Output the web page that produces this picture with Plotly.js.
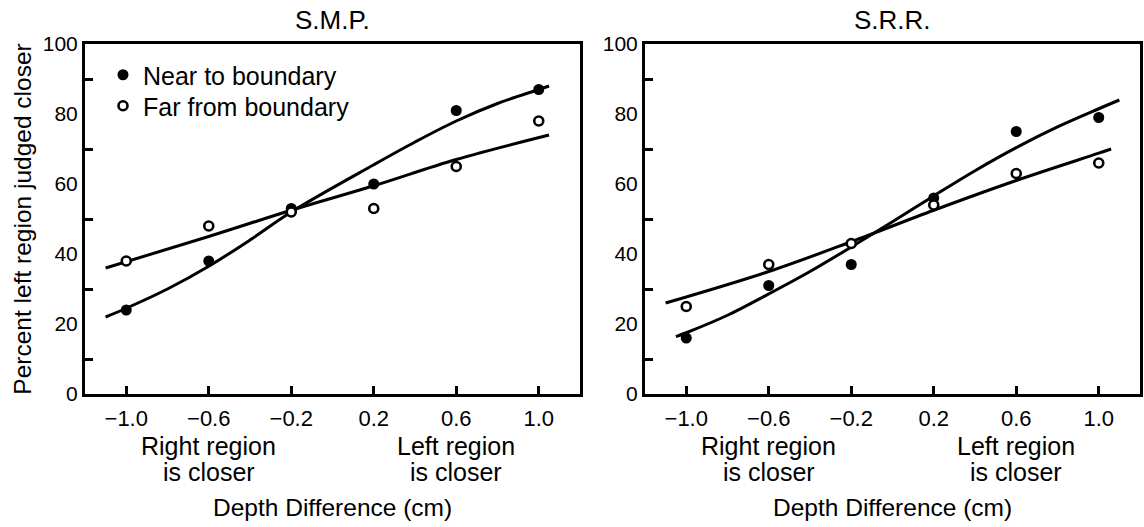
<!DOCTYPE html>
<html><head><meta charset="utf-8">
<script src="https://cdn.plot.ly/plotly-3.0.1.min.js"></script>
<style>html,body{margin:0;padding:0;background:#fff}</style>
</head><body>
<div id="chart" style="width:1144px;height:527px"></div>
<script>
// Depth difference levels (cm)
const depthLevels = [-1.0, -0.6, -0.2, 0.2, 0.6, 1.0];
const depthTickText = ['\u22121.0', '\u22120.6', '\u22120.2', '0.2', '0.6', '1.0'];
const percentTicks = [0, 20, 40, 60, 80, 100];
const percentMinorTicks = [10, 30, 50, 70, 90];

// S.M.P. observed percentages
const smpNear = [24, 38, 53, 60, 81, 87];
const smpFar = [38, 48, 52, 53, 65, 78];
// S.R.R. observed percentages
const srrNear = [16, 31, 37, 56, 75, 79];
const srrFar = [25, 37, 43, 54, 63, 66];

// Fitted curves
const smpNearFitX = [-1.1, -1.0, -0.8, -0.6, -0.4, -0.2, 0.2, 0.4, 0.6, 0.8, 1.0, 1.05];
const smpNearFitY = [22, 24.5, 30, 36.5, 44, 52, 65.5, 72, 78, 83, 87, 88];
const smpFarFitX = [-1.1, -0.6, -0.2, 0.2, 0.6, 1.05];
const smpFarFitY = [36, 45, 52.5, 59.5, 67, 74];
const srrNearFitX = [-1.05, -1.0, -0.8, -0.6, -0.4, -0.2, 0.0, 0.2, 0.4, 0.6, 0.8, 1.0, 1.1];
const srrNearFitY = [16.4, 17.5, 22.5, 28.6, 35, 42, 49.2, 56.6, 63.8, 70.4, 76.3, 81.5, 84];
const srrFarFitX = [-1.1, -0.6, -0.2, 0.2, 0.6, 1.0, 1.06];
const srrFarFitY = [26, 35, 43.5, 52.5, 61, 68.8, 70];

const seriesNames = ['Near to boundary', 'Far from boundary'];
const panelTitles = ['S.M.P.', 'S.R.R.'];
const regionLabels = [['Right region', 'is closer'], ['Left region', 'is closer']];
const regionLabelX = [-0.6, 0.6];

const FONT = 'Liberation Sans, Arial, Helvetica, sans-serif';
const W = 1144, H = 527;

function fitTrace(x, y, xa, ya) {
  return {x: x, y: y, xaxis: xa, yaxis: ya, mode: 'lines', type: 'scatter',
    line: {color: 'black', width: 3, shape: 'spline', smoothing: 1}, showlegend: false, hoverinfo: 'skip'};
}
function nearTrace(y, xa, ya, show) {
  return {x: depthLevels, y: y, xaxis: xa, yaxis: ya, mode: 'markers', type: 'scatter',
    name: seriesNames[0], showlegend: show, legend: 'legend',
    marker: {symbol: 'circle', size: 11, color: 'black', line: {width: 0}}};
}
function farTrace(y, xa, ya, show) {
  return {x: depthLevels, y: y, xaxis: xa, yaxis: ya, mode: 'markers', type: 'scatter',
    name: seriesNames[1], showlegend: show, legend: 'legend2',
    marker: {symbol: 'circle', size: 9, color: 'white', line: {color: 'black', width: 2.6}}};
}

const data = [
  fitTrace(smpNearFitX, smpNearFitY, 'x', 'y'),
  fitTrace(smpFarFitX, smpFarFitY, 'x', 'y'),
  fitTrace(srrNearFitX, srrNearFitY, 'x2', 'y2'),
  fitTrace(srrFarFitX, srrFarFitY, 'x2', 'y2'),
  nearTrace(smpNear, 'x', 'y', true),
  farTrace(smpFar, 'x', 'y', true),
  nearTrace(srrNear, 'x2', 'y2', false),
  farTrace(srrFar, 'x2', 'y2', false)
];

function xAxis(domain, anchor) {
  return {domain: domain, anchor: anchor, range: [-1.2, 1.2], showline: true, linecolor: 'black', linewidth: 3,
    mirror: true, ticks: 'inside', ticklen: 8, tickwidth: 3, tickcolor: 'black',
    tickmode: 'array', tickvals: depthLevels, ticktext: depthTickText, ticklabelstandoff: 3,
    tickfont: {family: FONT, size: 22, color: 'black'}, showgrid: false, zeroline: false,
    automargin: false, fixedrange: true};
}
function yAxis(domain, anchor) {
  return {domain: domain, anchor: anchor, range: [0, 100], showline: true, linecolor: 'black', linewidth: 3,
    mirror: true, ticks: '', tickmode: 'array', tickvals: percentTicks,
    minor: {tickmode: 'array', tickvals: percentMinorTicks, ticks: 'inside', ticklen: 8, tickwidth: 3, tickcolor: 'black', showgrid: false},
    tickfont: {family: FONT, size: 21, color: 'black'}, showgrid: false, zeroline: false,
    automargin: false, fixedrange: true};
}

const yDom = [(H - 394) / H, (H - 44) / H];
const x1Dom = [85 / W, 580 / W];
const x2Dom = [645 / W, 1140 / W];

const annotations = [];
[x1Dom, x2Dom].forEach(function (dom, i) {
  const cx = (dom[0] + dom[1]) / 2;
  const xr = i === 0 ? 'x' : 'x2';
  annotations.push({text: panelTitles[i], xref: 'paper', yref: 'paper', x: cx, y: 1 - 20 / H, showarrow: false,
    xanchor: 'center', yanchor: 'middle', font: {family: FONT, size: 26}});
  regionLabels.forEach(function (lines, j) {
    annotations.push({text: lines[0], xref: xr, yref: 'paper', x: regionLabelX[j], y: 1 - 446 / H, showarrow: false,
      xanchor: 'center', yanchor: 'middle', font: {family: FONT, size: 25}});
    annotations.push({text: lines[1], xref: xr, yref: 'paper', x: regionLabelX[j], y: 1 - 472 / H, showarrow: false,
      xanchor: 'center', yanchor: 'middle', font: {family: FONT, size: 25}});
  });
  annotations.push({text: 'Depth Difference (cm)', xref: 'paper', yref: 'paper', x: cx, y: 1 - 507 / H, showarrow: false,
    xanchor: 'center', yanchor: 'middle', font: {family: FONT, size: 24.5}});
});

const legendCommon = {xanchor: 'left', yanchor: 'top', bgcolor: 'rgba(0,0,0,0)', borderwidth: 0,
  font: {family: FONT, size: 25, color: 'black'}, itemwidth: 30};

const layout = {
  width: W, height: H,
  margin: {l: 0, r: 0, t: 0, b: 0},
  paper_bgcolor: 'white', plot_bgcolor: 'white',
  font: {family: FONT, color: 'black', size: 21},
  xaxis: xAxis(x1Dom, 'y'),
  yaxis: Object.assign(yAxis(yDom, 'x'), {title: {text: 'Percent left region judged closer', font: {family: FONT, size: 24.5, color: 'black'}, standoff: 5}}),
  xaxis2: xAxis(x2Dom, 'y2'),
  yaxis2: yAxis(yDom, 'x2'),
  showlegend: true,
  legend: Object.assign({x: 103 / W, y: 1 - 52 / H}, legendCommon),
  legend2: Object.assign({x: 103 / W, y: 1 - 83 / H}, legendCommon),
  annotations: annotations
};

Plotly.newPlot('chart', data, layout, {displayModeBar: false, staticPlot: true});
</script>
</body></html>
